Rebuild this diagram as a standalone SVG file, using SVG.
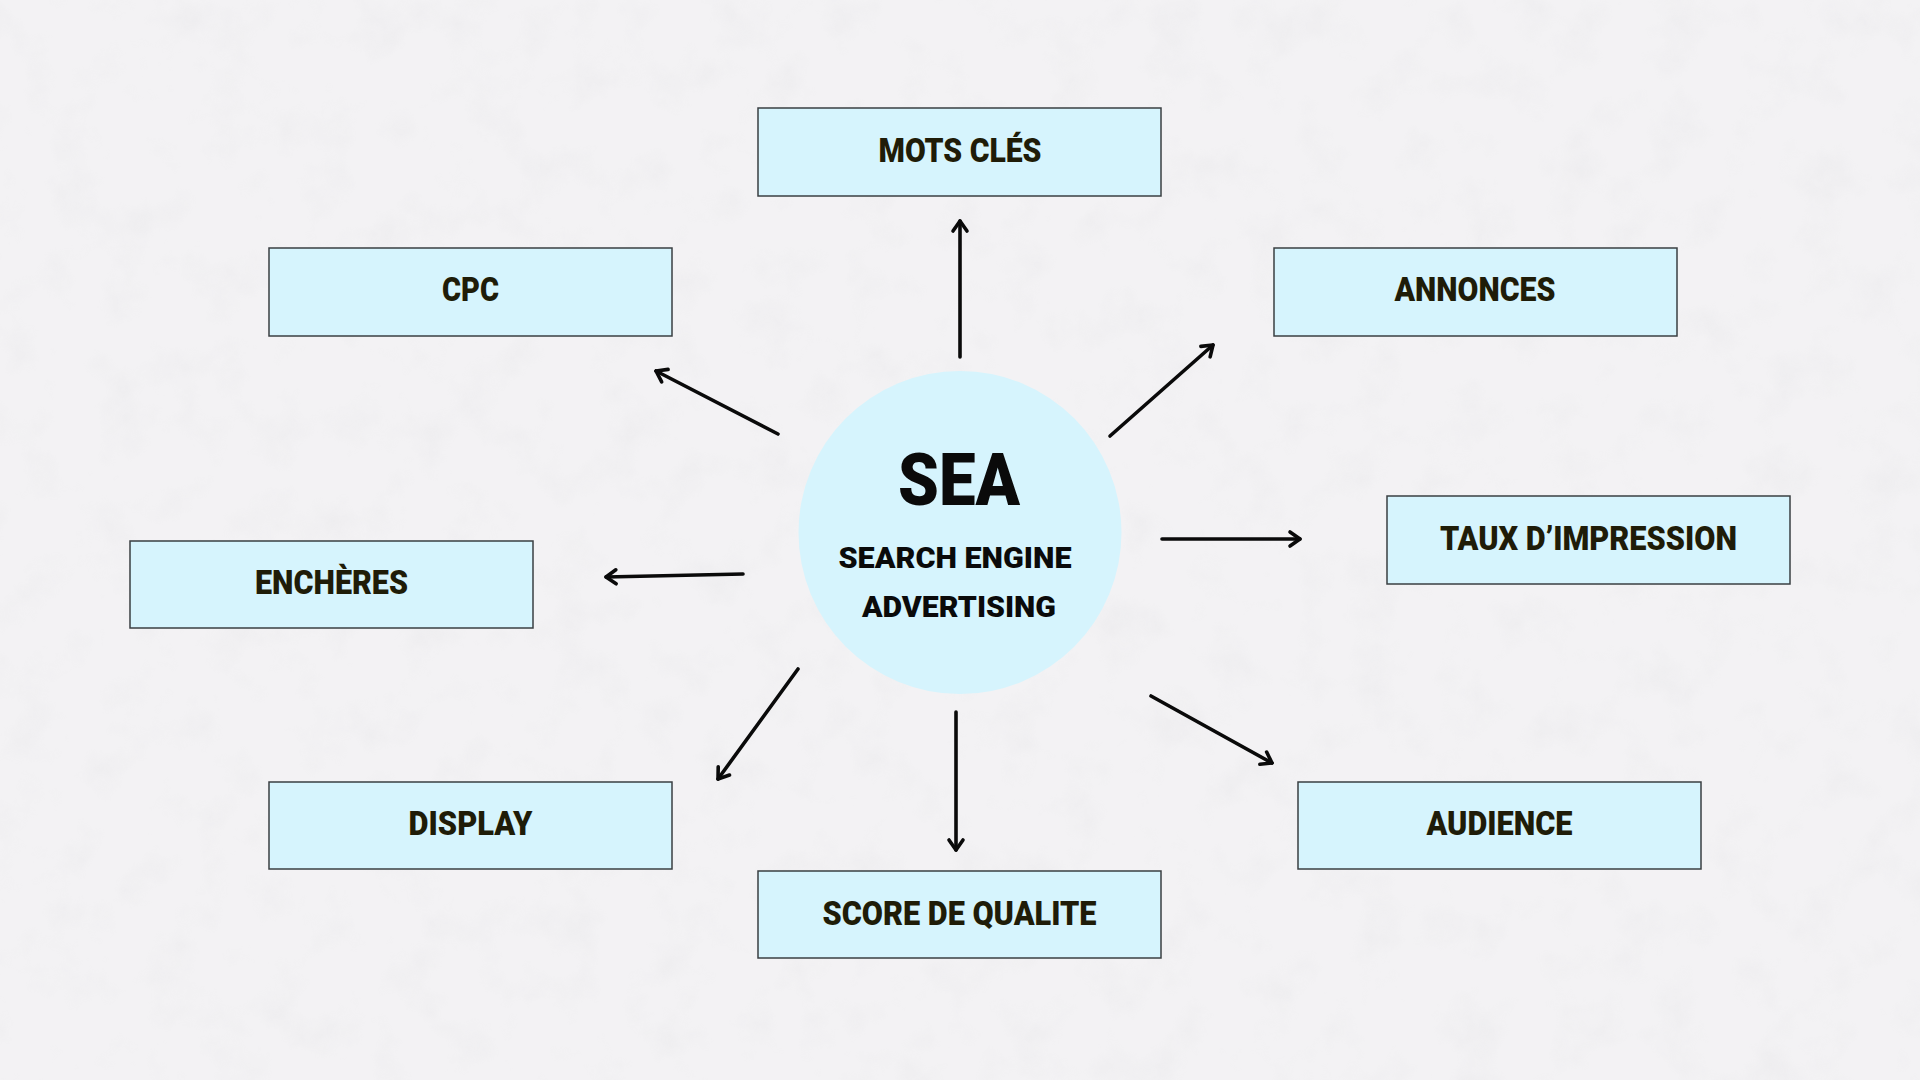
<svg xmlns="http://www.w3.org/2000/svg" width="1920" height="1080" viewBox="0 0 1920 1080">
  <defs>
    <style>
      .box { fill: #d6f4fd; stroke: #3a3f42; stroke-width: 1.5; }
      .lbl { font-family: Roboto, "Liberation Sans", sans-serif; font-weight: 900; font-size: 34px; fill: #1f1c08; text-anchor: middle; }
      .ctr { font-family: Roboto, "Liberation Sans", sans-serif; font-weight: 900; fill: #0a0a0a; text-anchor: middle; }
      .conn { stroke: #0a0a0a; stroke-width: 3.6; fill: none; stroke-linecap: round; }
    </style>
    <marker id="arrow" markerUnits="userSpaceOnUse" markerWidth="20" markerHeight="20" viewBox="0 0 20 20" refX="14" refY="10" orient="auto">
      <path d="M4,3 L14,10 L4,17" fill="none" stroke="#0a0a0a" stroke-width="3.6" stroke-linecap="round" stroke-linejoin="round"/>
    </marker>
    <filter id="grain" x="0" y="0" width="100%" height="100%">
      <feTurbulence type="fractalNoise" baseFrequency="0.02" numOctaves="4" seed="7" result="n"/>
      <feColorMatrix type="matrix" values="0 0 0 0 0.6  0 0 0 0 0.6  0 0 0 0 0.62  0 0 0 -1.2 0.6"/>
    </filter>
  </defs>

  <rect x="0" y="0" width="1920" height="1080" fill="#f3f2f4"/>
  <rect x="0" y="0" width="1920" height="1080" filter="url(#grain)" opacity="0.22"/>

  <g id="connectors">
    <line class="conn" x1="960" y1="357" x2="960" y2="221" marker-end="url(#arrow)"/>
    <line class="conn" x1="778" y1="434" x2="656" y2="371" marker-end="url(#arrow)"/>
    <line class="conn" x1="1110" y1="436" x2="1213" y2="345" marker-end="url(#arrow)"/>
    <line class="conn" x1="1162" y1="539" x2="1300" y2="539" marker-end="url(#arrow)"/>
    <line class="conn" x1="743" y1="574" x2="606" y2="577" marker-end="url(#arrow)"/>
    <line class="conn" x1="798" y1="669" x2="718" y2="779" marker-end="url(#arrow)"/>
    <line class="conn" x1="956" y1="712" x2="956" y2="850" marker-end="url(#arrow)"/>
    <line class="conn" x1="1151" y1="696" x2="1272" y2="763" marker-end="url(#arrow)"/>
  </g>

  <g id="node-sea">
    <circle cx="960" cy="532.5" r="161.5" fill="#d6f4fd"/>
    <text class="ctr" x="959" y="505" font-size="72" textLength="122" lengthAdjust="spacingAndGlyphs">SEA</text>
    <text class="ctr" x="955" y="568" font-size="30" textLength="233" lengthAdjust="spacingAndGlyphs">SEARCH ENGINE</text>
    <text class="ctr" x="959" y="617" font-size="30" textLength="194" lengthAdjust="spacingAndGlyphs">ADVERTISING</text>
  </g>

  <g id="node-mots-cles">
    <rect class="box" x="758" y="108" width="403" height="88"/>
    <text class="lbl" x="960" y="162" textLength="163" lengthAdjust="spacingAndGlyphs">MOTS CLÉS</text>
  </g>

  <g id="node-cpc">
    <rect class="box" x="269" y="248" width="403" height="88"/>
    <text class="lbl" x="470.5" y="301" textLength="57" lengthAdjust="spacingAndGlyphs">CPC</text>
  </g>

  <g id="node-annonces">
    <rect class="box" x="1274" y="248" width="403" height="88"/>
    <text class="lbl" x="1475" y="301" textLength="161" lengthAdjust="spacingAndGlyphs">ANNONCES</text>
  </g>

  <g id="node-taux">
    <rect class="box" x="1387" y="496" width="403" height="88"/>
    <text class="lbl" x="1588.5" y="550" textLength="297" lengthAdjust="spacingAndGlyphs">TAUX D’IMPRESSION</text>
  </g>

  <g id="node-encheres">
    <rect class="box" x="130" y="541" width="403" height="87"/>
    <text class="lbl" x="331.5" y="594" textLength="153" lengthAdjust="spacingAndGlyphs">ENCHÈRES</text>
  </g>

  <g id="node-display">
    <rect class="box" x="269" y="782" width="403" height="87"/>
    <text class="lbl" x="470.5" y="835" textLength="124" lengthAdjust="spacingAndGlyphs">DISPLAY</text>
  </g>

  <g id="node-score">
    <rect class="box" x="758" y="871" width="403" height="87"/>
    <text class="lbl" x="959.5" y="925" textLength="274" lengthAdjust="spacingAndGlyphs">SCORE DE QUALITE</text>
  </g>

  <g id="node-audience">
    <rect class="box" x="1298" y="782" width="403" height="87"/>
    <text class="lbl" x="1499.5" y="835" textLength="146" lengthAdjust="spacingAndGlyphs">AUDIENCE</text>
  </g>
</svg>
